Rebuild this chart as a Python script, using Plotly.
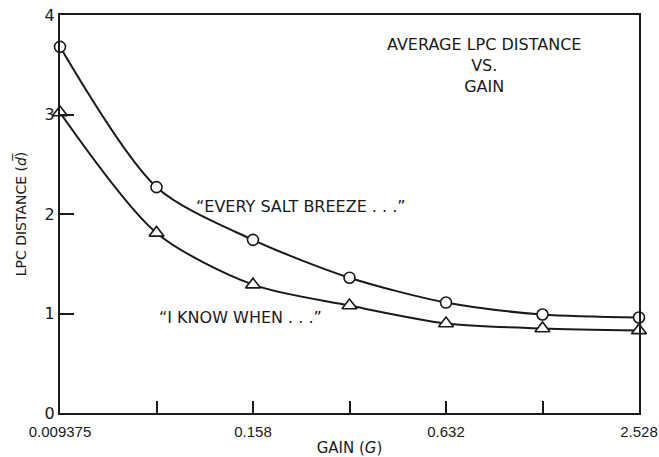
import plotly.graph_objects as go

# Gain settings (evenly spaced on the plot), labelled every other step
gain_labels = ["0.009375", "", "0.158", "", "0.632", "", "2.528"]
gain_index = [0, 1, 2, 3, 4, 5, 6]

# Average LPC distance for each utterance
every_salt_breeze = [3.68, 2.27, 1.74, 1.36, 1.11, 0.99, 0.96]
i_know_when = [3.02, 1.81, 1.29, 1.08, 0.90, 0.85, 0.83]

FONT = "DejaVu Sans, Liberation Sans, sans-serif"
TICK_FONT = "Liberation Sans, Arial, sans-serif"
INK = "#1a1a1a"

fig = go.Figure()

fig.add_trace(go.Scatter(
    x=gain_index, y=every_salt_breeze, mode="lines+markers",
    line=dict(color=INK, width=2, shape="spline", smoothing=0.8),
    marker=dict(symbol="circle", size=11, color="white",
                line=dict(color=INK, width=1.6)),
    cliponaxis=False, showlegend=False,
))
fig.add_trace(go.Scatter(
    x=gain_index, y=i_know_when, mode="lines+markers",
    line=dict(color=INK, width=2, shape="spline", smoothing=0.8),
    marker=dict(symbol="triangle-up", size=13, color="white",
                line=dict(color=INK, width=1.6)),
    cliponaxis=False, showlegend=False,
))

fig.add_annotation(x=4.39, y=3.49, xref="x", yref="y", showarrow=False,
                   text="AVERAGE LPC DISTANCE<br>VS.<br>GAIN",
                   font=dict(family=FONT, size=16, color=INK), align="center")
fig.add_annotation(x=2.5, y=2.08, xref="x", yref="y", showarrow=False,
                   text="\u201cEVERY SALT BREEZE . . .\u201d",
                   font=dict(family=FONT, size=16, color=INK))
fig.add_annotation(x=1.87, y=0.96, xref="x", yref="y", showarrow=False,
                   text="\u201cI KNOW WHEN . . .\u201d",
                   font=dict(family=FONT, size=16, color=INK))

fig.update_xaxes(
    range=[0, 6], tickvals=gain_index, ticktext=gain_labels,
    ticks="inside", ticklen=12, tickwidth=1.5, tickcolor=INK,
    showline=True, linecolor=INK, linewidth=2, mirror=True,
    showgrid=False, zeroline=False, automargin=False,
    ticklabeloverflow="allow", ticklabelstandoff=4,
    tickfont=dict(family=TICK_FONT, size=15, color=INK),
    title=dict(text="GAIN (<i>G</i>)", font=dict(family=FONT, size=15, color=INK),
               standoff=6),
)
fig.update_yaxes(
    range=[0, 4], tickvals=[0, 1, 2, 3, 4],
    ticks="inside", ticklen=14, tickwidth=1.5, tickcolor=INK,
    showline=True, linecolor=INK, linewidth=2, mirror=True,
    showgrid=False, zeroline=False, automargin=False,
    tickfont=dict(family=FONT, size=16, color=INK),
    title=dict(text="LPC DISTANCE (<i>d\u0305</i>)",
               font=dict(family=FONT, size=14, color=INK), standoff=15),
)

fig.update_layout(
    width=659, height=457,
    margin=dict(l=60, r=20, t=15, b=44),
    paper_bgcolor="white", plot_bgcolor="white",
)

fig.write_html("out.html")
